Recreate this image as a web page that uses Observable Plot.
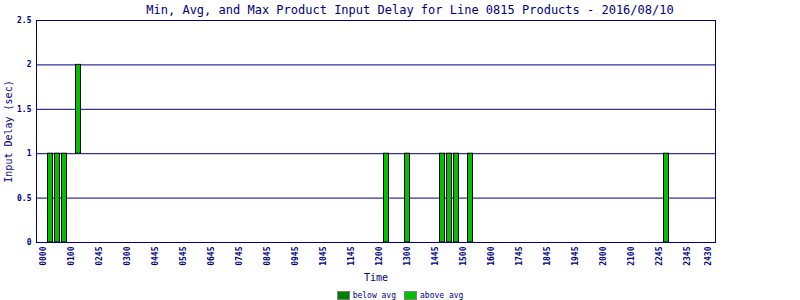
<!DOCTYPE html>
<html>
<head>
<meta charset="utf-8">
<script src="https://cdn.jsdelivr.net/npm/d3@7"></script>
<script src="https://cdn.jsdelivr.net/npm/@observablehq/plot@0.6"></script>
<style>
  html, body { margin: 0; padding: 0; background: #fff; }
  #wrap { width: 800px; height: 300px; position: relative; font-family: "DejaVu Sans Mono", monospace; color: #000080; }
  #title { height: 20px; width: 800px; box-sizing: border-box; padding-left: 20px; text-align: center; font-size: 12px; line-height: 20px; white-space: pre; }
  #chart svg { overflow: visible; display: block; }
  #legend { height: 18px; width: 800px; display: flex; justify-content: center; align-items: flex-start; font-size: 8px; }
  .item { display: flex; align-items: center; margin: 0 4px; margin-top: 9px; }
  .sw { width: 11px; height: 7px; border: 1px solid #808080; margin-right: 3px; }
</style>
</head>
<body>
<div id="wrap">
  <div id="title"></div>
  <div id="chart"></div>
  <div id="legend"></div>
</div>
<script>
const titleText = "Min, Avg, and Max Product Input Delay for Line 0815 Products - 2016/08/10";
// bar times (hours of day), min and max input delay (sec)
const times    = [0.25, 0.5, 0.75, 1.25, 12.25, 13, 14.25, 14.5, 14.75, 15.25, 22.25];
const minDelay = [0, 0, 0, 1, 0, 0, 0, 0, 0, 0, 0];
const maxDelay = [1, 1, 1, 2, 1, 1, 1, 1, 1, 1, 1];
const barClass = ["above avg","above avg","above avg","above avg","above avg","above avg","above avg","above avg","above avg","above avg","above avg"];

const xTickHours  = [0,1,2,3,4,5,6,7,8,9,10,11,12,13,14,15,16,17,18,19,20,21,22,23,23.75];
const xTickLabels = ["0000","0100","0245","0300","0445","0545","0645","0745","0845","0945","1045","1145","1200","1300","1445","1500","1600","1745","1845","1945","2000","2100","2245","2345","2430"];
const yTicks = [0, 0.5, 1, 1.5, 2, 2.5];
const yTickLabels = ["0","0.5","1","1.5","2","2.5"];

const legendNames  = ["below avg", "above avg"];
const legendColors = ["#008000", "#00c000"];

const navy = "#000080";
const idx = d3.range(times.length);

document.getElementById("title").textContent = titleText;

const chart = Plot.plot({
  width: 800,
  height: 262,
  marginTop: 0,
  marginLeft: 36,
  marginRight: 85,
  marginBottom: 40,
  style: { fontFamily: "DejaVu Sans Mono, monospace", color: navy, background: "white", overflow: "visible" },
  x: { domain: [-0.25, 24] },
  y: { domain: [0, 2.5] },
  color: { domain: legendNames, range: legendColors },
  marks: [
    Plot.ruleY(yTicks, { stroke: navy, strokeWidth: 1 }),
    Plot.rectY(idx, {
      x1: i => times[i] - 0.125,
      x2: i => times[i] + 0.125,
      y1: i => minDelay[i],
      y2: i => maxDelay[i],
      fill: i => barClass[i],
      stroke: "black",
      strokeWidth: 1,
      insetLeft: 1,
      insetRight: 1
    }),
    Plot.frame({ stroke: navy, strokeWidth: 1 }),
    Plot.axisY({
      ticks: yTicks,
      tickFormat: (d) => yTickLabels[yTicks.indexOf(d)],
      tickSize: 0,
      tickPadding: 5,
      fontSize: 8,
      fontWeight: "bold",
      fill: navy,
      label: null
    }),
    Plot.axisX({
      ticks: xTickHours,
      tickFormat: (d) => xTickLabels[xTickHours.indexOf(d)],
      tickRotate: -90,
      tickSize: 0,
      tickPadding: 4,
      fontSize: 8,
      fontWeight: "bold",
      fill: navy,
      label: null
    }),
    Plot.text(["Time"], { frameAnchor: "bottom", lineAnchor: "middle", dy: 35, fontSize: 10, fill: navy }),
    Plot.text(["Input Delay (sec)"], { frameAnchor: "left", textAnchor: "middle", lineAnchor: "middle", dx: -28, rotate: -90, fontSize: 10, fill: navy })
  ]
});
document.getElementById("chart").appendChild(chart);

const legend = document.getElementById("legend");
legendNames.forEach((name, i) => {
  const item = document.createElement("div");
  item.className = "item";
  const sw = document.createElement("div");
  sw.className = "sw";
  sw.style.background = legendColors[i];
  const lab = document.createElement("span");
  lab.textContent = name;
  item.appendChild(sw);
  item.appendChild(lab);
  legend.appendChild(item);
});
</script>
</body>
</html>
